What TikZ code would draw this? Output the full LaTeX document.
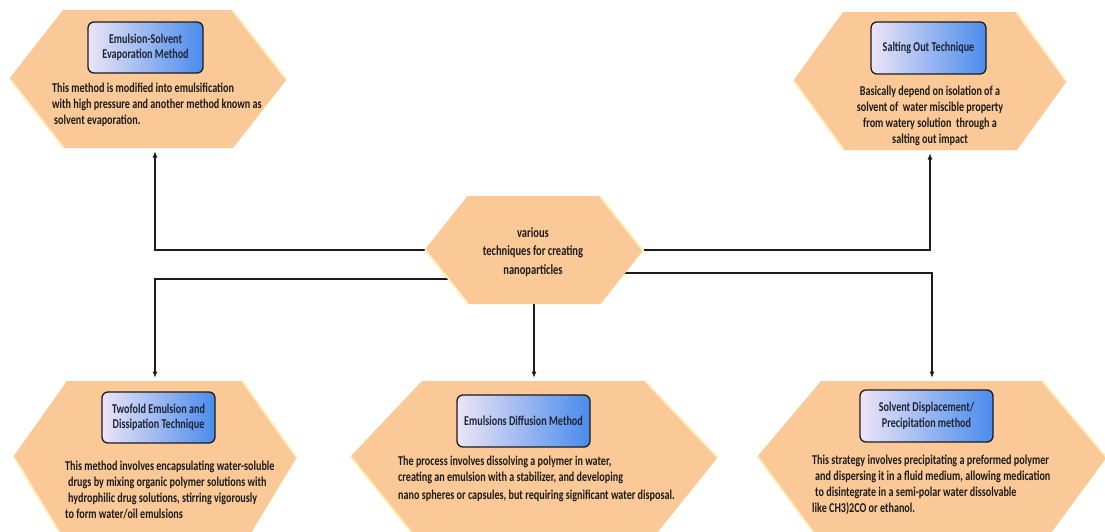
\documentclass[tikz,border=0pt]{standalone}
\usepackage{fontspec}
\setmainfont[FakeStretch=0.75]{Carlito}
\usetikzlibrary{arrows.meta,backgrounds,calc}

\definecolor{peach}{HTML}{FBC997}
\definecolor{bevel}{HTML}{FFF2BE}
\definecolor{boxlav}{HTML}{ECE4F6}
\definecolor{boxsky}{HTML}{98C6F7}
\definecolor{boxblue}{HTML}{4A8BEC}
\definecolor{ink}{HTML}{1B1B1B}
\definecolor{titleink}{HTML}{1E2436}

\tikzset{
  % outline of an elongated hexagon inside the node's rectangle;
  % #1 = inset of the upper corners, #2 = inset of the lower corners
  hexpath/.style 2 args={insert path={
    (path picture bounding box.west)
    -- ([xshift=#1]path picture bounding box.north west)
    -- ([xshift=-#1]path picture bounding box.north east)
    -- (path picture bounding box.east)
    -- ([xshift=-#2]path picture bounding box.south east)
    -- ([xshift=#2]path picture bounding box.south west) -- cycle}},
  hexa/.style 2 args={shape=rectangle, draw=none, inner sep=0pt, outer sep=0pt,
    path picture={
      \fill[peach, hexpath={#1}{#2}];
      \begin{scope}
        \clip[hexpath={#1}{#2}];
        \draw[bevel, line width=3pt]
          ([xshift=-#1]path picture bounding box.north east) -- (path picture bounding box.east);
        \draw[bevel, line width=3pt]
          (path picture bounding box.west) -- ([xshift=#2]path picture bounding box.south west);
      \end{scope}
    }},
  titlebox/.style={draw=ink, line width=1.3pt, rounded corners=6pt,
    left color=boxlav, middle color=boxsky, right color=boxblue,
    align=center, inner sep=0pt, text=titleink,
    font=\bfseries\fontsize{13.5}{15.5}\selectfont},
  bodytext/.style={inner sep=0pt, text=ink,
    font=\bfseries\fontsize{13.5}{16}\selectfont},
  conn/.style={draw=ink, line width=1.4pt, -{Latex[length=6.5pt,width=5pt]}},
}

\begin{document}
\begin{tikzpicture}[x=1pt, y=-1pt]
  \useasboundingbox (0,0) rectangle (1105,531);
  \clip (0,0) rectangle (1105,531);

  % hexagonal panels
  \node[hexa={43pt}{43pt}, minimum width=219pt, minimum height=108pt] (hexC) at (534,250) {};
  \node[hexa={54pt}{54pt}, minimum width=278pt, minimum height=138pt] (hexA) at (148,79) {};
  \node[hexa={50pt}{50pt}, minimum width=274pt, minimum height=138pt] (hexB) at (930,81) {};
  \node[hexa={54pt}{46pt}, minimum width=284pt, minimum height=152pt] (hexD) at (155,457) {};
  \node[hexa={72pt}{61pt}, minimum width=368pt, minimum height=152pt] (hexE) at (534,457) {};
  \node[hexa={64pt}{56pt}, minimum width=350pt, minimum height=152pt] (hexF) at (932,457) {};

  % central label
  \node[bodytext, align=center, font=\bfseries\fontsize{14}{18.5}\selectfont] (centre) at (533,252)
    {various\\techniques for creating\\nanoparticles};

  % method titles
  \node[titlebox, minimum width=115pt, minimum height=51pt] (tA) at (145.5,47.5)
    {Emulsion-Solvent\\Evaporation Method};
  \node[titlebox, minimum width=115pt, minimum height=52pt] (tB) at (928.5,48)
    {Salting Out Technique};
  \node[titlebox, minimum width=113pt, minimum height=51pt] (tD) at (158.5,417.5)
    {Twofold Emulsion and\\Dissipation Technique};
  \node[titlebox, minimum width=133pt, minimum height=52pt] (tE) at (523.5,421)
    {Emulsions Diffusion Method};
  \node[titlebox, minimum width=133pt, minimum height=52pt] (tF) at (926.5,416)
    {Solvent Displacement/\\Precipitation method};

  % method descriptions
  \node[bodytext, align=left, anchor=west] (dA) at (52,105)
    {This method is modified into emulsification\\
     with high pressure and another method known as\\
     \hspace{2pt}solvent evaporation.};
  \node[bodytext, align=center] (dB) at (930,116)
    {Basically depend on isolation of a\\
     solvent of \ water miscible property\\
     from watery solution \ through a\\
     salting out impact};
  \node[bodytext, align=left, anchor=west] (dD) at (65,490)
    {This method involves encapsulating water-soluble\\
     \hspace{3pt}drugs by mixing organic polymer solutions with\\
     \hspace{3pt}hydrophilic drug solutions, stirring vigorously\\
     to form water/oil emulsions};
  \node[bodytext, align=left, anchor=west] (dE) at (398,479)
    {The process involves dissolving a polymer in water,\\
     creating an emulsion with a stabilizer, and developing\\[2pt]
     nano spheres or capsules, but requiring significant water disposal.};
  \node[bodytext, align=left, anchor=west] (dF) at (812,484.5)
    {This strategy involves precipitating a preformed polymer\\
     \hspace{3pt}and dispersing it in a fluid medium, allowing medication\\
     \hspace{3pt}to disintegrate in a semi-polar water dissolvable\\
     like CH3)2CO or ethanol.};

  % connectors, kept behind the panels
  \begin{scope}[on background layer]
    \draw[conn, shorten >=3pt] (hexC.west) -| ([xshift=7pt]hexA.south);
    \draw[conn, shorten >=3pt] (hexC.east) -| (hexB.south);
    \draw[conn, shorten >=3pt] ([yshift=-29pt]hexC.center) -| (hexD.north);
    \draw[conn, shorten >=3pt] ([yshift=-23pt]hexC.center) -| (hexF.north);
    \draw[conn, shorten >=3pt] (hexC.south) -- (hexC.south |- hexE.north);
  \end{scope}
\end{tikzpicture}
\end{document}
